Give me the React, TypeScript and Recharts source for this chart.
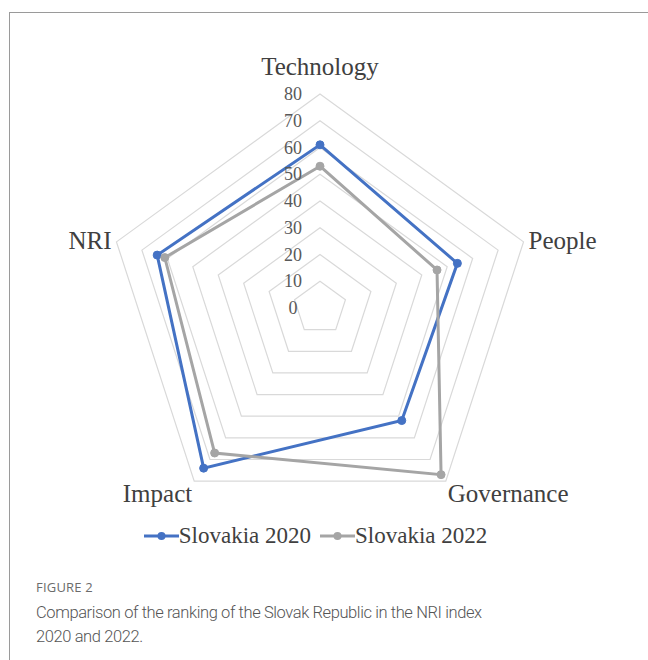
import React from "react";
import { RadarChart, Radar, PolarGrid, PolarAngleAxis, PolarRadiusAxis, Legend } from "recharts";

const categories = ["Technology", "People", "Governance", "Impact", "NRI"];
const slovakia2020 = [61, 54, 52, 74, 64];
const slovakia2022 = [53, 46, 77, 67, 61];
const radiusTicks = [0, 10, 20, 30, 40, 50, 60, 70, 80];
const seriesNames = ["Slovakia 2020", "Slovakia 2022"];

const data = categories.map((c, i) => ({
  axis: c,
  s2020: slovakia2020[i],
  s2022: slovakia2022[i],
}));

const CX = 320;
const CY = 308;
const R = 214;
const SERIF = "'Liberation Serif', 'Times New Roman', serif";
const BLUE = "#4472c4";
const GRAY = "#a5a5a5";

const AngleTick = (props: any) => {
  const { x, y, payload } = props;
  const dx = x - CX;
  const dy = y - CY;
  const len = Math.sqrt(dx * dx + dy * dy) || 1;
  const ux = dx / len;
  const uy = dy / len;
  const vx = CX + ux * R;
  const vy = CY + uy * R;
  let tx = vx;
  let ty = vy;
  let anchor: any = "middle";
  if (Math.abs(ux) < 0.1) {
    ty = uy < 0 ? vy - 28 : vy + 27;
  } else if (uy < 0) {
    anchor = ux > 0 ? "start" : "end";
    tx = vx + (ux > 0 ? 5 : -5);
    ty = vy - 1;
  } else {
    anchor = ux > 0 ? "start" : "end";
    tx = vx + (ux > 0 ? 2 : -2);
    ty = vy + 12;
  }
  return (
    <text x={tx} y={ty} textAnchor={anchor} dominantBaseline="central" fontFamily={SERIF} fontSize={25} fill="#404040">
      {payload.value}
    </text>
  );
};

const RadiusTick = (props: any) => {
  const { x, y, payload } = props;
  return (
    <text x={x - 27} y={y} textAnchor="middle" dominantBaseline="central" fontFamily={SERIF} fontSize={18} fill="#595959">
      {payload.value}
    </text>
  );
};

const LegendContent = (props: any) => {
  const { payload } = props;
  return (
    <div style={{ display: "flex", justifyContent: "center", alignItems: "center", gap: 9, marginLeft: -17 }}>
      {(payload || []).map((entry: any) => (
        <div key={entry.value} style={{ display: "flex", alignItems: "center" }}>
          <svg width={35} height={12} style={{ display: "block" }}>
            <line x1={0} y1={6} x2={35} y2={6} stroke={entry.color} strokeWidth={3} />
            <circle cx={17.5} cy={6} r={4} fill={entry.color} />
          </svg>
          <span style={{ fontFamily: SERIF, fontSize: 23, color: "#404040", lineHeight: "26px" }}>{entry.value}</span>
        </div>
      ))}
    </div>
  );
};

export default function App() {
  return (
    <div style={{ position: "absolute", left: 0, top: 0, width: 648, height: 660, background: "#fff", overflow: "hidden" }}>
      <div
        style={{
          position: "absolute",
          left: 9,
          top: 12,
          right: 0,
          bottom: 0,
          borderTop: "1.5px solid #9a9a9a",
          borderLeft: "1.5px solid #9a9a9a",
        }}
      />
      <div style={{ position: "absolute", left: 0, top: 0 }}>
        <RadarChart width={648} height={560} data={data} cx={CX} cy={CY} outerRadius={R} startAngle={90} endAngle={-270}>
          <PolarGrid gridType="polygon" radialLines={false} stroke="#d9d9d9" strokeWidth={1.2} />
          <PolarAngleAxis dataKey="axis" tick={AngleTick} tickLine={false} axisLine={false} />
          <PolarRadiusAxis
            angle={90}
            domain={[0, 80]}
            ticks={radiusTicks}
            tickCount={9}
            axisLine={false}
            tick={RadiusTick}
            tickLine={false}
          />
          <Radar
            name={seriesNames[0]}
            dataKey="s2020"
            stroke={BLUE}
            strokeWidth={3}
            fill={BLUE}
            fillOpacity={0}
            dot={{ r: 4, fill: BLUE, fillOpacity: 1, stroke: BLUE, strokeWidth: 1 }}
            isAnimationActive={false}
          />
          <Radar
            name={seriesNames[1]}
            dataKey="s2022"
            stroke={GRAY}
            strokeWidth={3}
            fill={GRAY}
            fillOpacity={0}
            dot={{ r: 4, fill: GRAY, fillOpacity: 1, stroke: GRAY, strokeWidth: 1 }}
            isAnimationActive={false}
          />
          <Legend
            content={LegendContent}
            wrapperStyle={{ position: "absolute", left: 0, top: 523, width: 648, height: 26 }}
          />
        </RadarChart>
      </div>
      <div
        style={{
          position: "absolute",
          left: 36,
          top: 578,
          fontFamily: "'Open Sans', sans-serif",
          fontSize: 13,
          color: "#6b6b6b",
          letterSpacing: 0.2,
        }}
      >
        FIGURE 2
      </div>
      <div
        style={{
          position: "absolute",
          left: 36,
          top: 601,
          fontFamily: "Roboto, sans-serif",
          fontWeight: 300,
          fontSize: 16.5,
          letterSpacing: -0.4,
          lineHeight: "24px",
          color: "#555",
          whiteSpace: "nowrap",
        }}
      >
        Comparison of the ranking of the Slovak Republic in the NRI index
        <br />
        2020 and 2022.
      </div>
    </div>
  );
}
